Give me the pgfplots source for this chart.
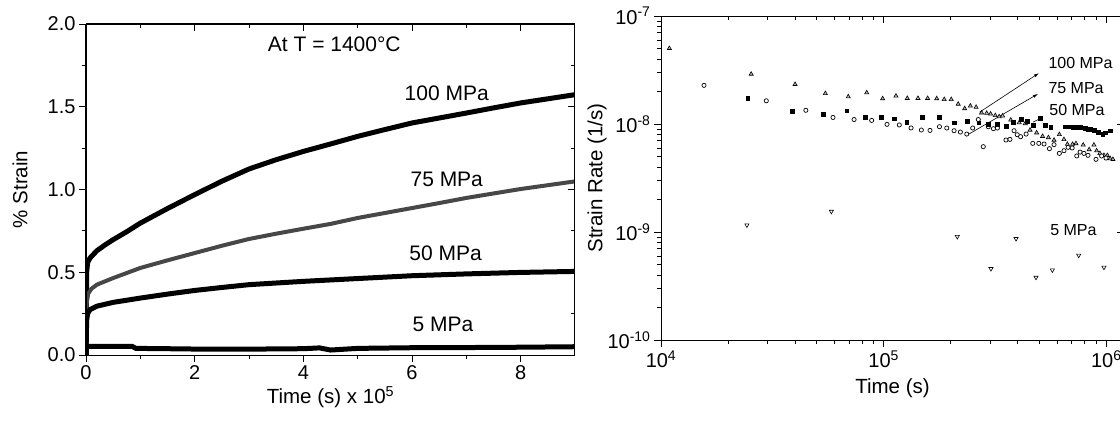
\documentclass[border=0pt]{standalone}
\usepackage{fontspec}
\setmainfont{Liberation Sans}
\usepackage{pgfplots}
\pgfplotsset{compat=1.18}
\usetikzlibrary{arrows.meta}
\pgfplotsset{
  mybase/.style={
    scale only axis,
    axis line style={line width=1pt},
    every tick/.style={black, line width=0.9pt},
    major tick length=7pt, minor tick length=4pt,
    tick label style={font=\fontsize{20}{24}\selectfont},
    label style={font=\fontsize{20.5}{25}\selectfont},
  },
  leftdims/.style={mybase, at={(86pt,69pt)}, anchor=south west,
    width=489pt, height=331pt, xmin=0, xmax=9, ymin=0, ymax=2,
    xtick={0,2,4,6,8}, minor xtick={1,3,5,7},
    ytick={0,0.5,1,1.5,2}, minor ytick={0.25,0.75,1.25,1.75}},
  rightdims/.style={mybase, at={(661pt,84pt)}, anchor=south west,
    width=463pt, height=324pt,
    xmin=1e4, xmax=1.2e6, ymin=1e-10, ymax=1e-7,
    xtick={1e4,1e5,1e6}, ytick={1e-10,1e-9,1e-8,1e-7}},
}
\pgfplotstableread{
t s
0 0
0.012 0.50
0.03 0.56
0.074 0.586
0.2 0.63
0.35 0.665
0.5 0.697
0.75 0.745
1 0.797
1.5 0.885
2 0.969
2.5 1.05
3 1.124
3.5 1.18
4 1.230
4.5 1.275
5 1.321
5.5 1.362
6 1.402
6.5 1.432
7 1.462
7.5 1.493
8 1.523
8.5 1.548
9 1.573
}\sHundred
\pgfplotstableread{
t s
0 0
0.012 0.31
0.04 0.37
0.1 0.40
0.2 0.425
0.5 0.465
1 0.526
1.5 0.572
2 0.616
2.5 0.66
3 0.701
3.5 0.733
4 0.763
4.5 0.792
5 0.828
5.5 0.858
6 0.888
6.5 0.918
7 0.949
7.5 0.976
8 1.003
8.5 1.026
9 1.049
}\sSeventyFive
\pgfplotstableread{
t s
0 0
0.012 0.21
0.03 0.25
0.074 0.274
0.2 0.295
0.5 0.318
1 0.344
1.5 0.368
2 0.39
2.5 0.408
3 0.425
4 0.445
5 0.462
6 0.479
7 0.490
8 0.499
9 0.505
}\sFifty
\pgfplotstableread{
t s
0 0
0.01 0.052
0.5 0.052
0.85 0.052
0.92 0.040
1.5 0.038
2 0.036
3 0.035
3.5 0.037
4 0.038
4.3 0.043
4.5 0.030
4.7 0.034
5 0.040
6 0.044
7 0.045
8 0.047
9 0.050
}\sFive
\pgfplotstableread{
t r
1.09e4 5.02e-8
2.54e4 2.90e-8
4.0e4 2.33e-8
5.47e4 1.92e-8
6.93e4 1.79e-8
8.39e4 1.95e-8
9.89e4 1.72e-8
1.135e5 1.82e-8
1.276e5 1.73e-8
1.425e5 1.73e-8
1.575e5 1.73e-8
1.73e5 1.72e-8
1.87e5 1.69e-8
2.01e5 1.69e-8
2.16e5 1.53e-8
2.31e5 1.39e-8
2.45e5 1.47e-8
2.60e5 1.43e-8
2.75e5 1.27e-8
2.90e5 1.26e-8
3.02e5 1.24e-8
3.17e5 1.20e-8
3.30e5 1.17e-8
3.42e5 1.19e-8
3.72e5 1.09e-8
4.06e5 1.03e-8
4.32e5 1.01e-8
4.54e5 8.8e-9
4.86e5 8.3e-9
5.17e5 7.7e-9
5.49e5 7.5e-9
5.82e5 7.1e-9
6.15e5 8.0e-9
6.45e5 7.2e-9
6.68e5 6.5e-9
7.05e5 6.5e-9
7.30e5 6.6e-9
7.87e5 6.4e-9
8.37e5 5.8e-9
8.79e5 6.4e-9
9.04e5 5.66e-9
9.35e5 5.35e-9
9.75e5 5.13e-9
1.01e6 5.13e-9
1.04e6 4.78e-9
1.07e6 4.71e-9
}\rHundred
\pgfplotstableread{
t r
1.56e4 2.28e-8
2.97e4 1.64e-8
4.47e4 1.34e-8
5.92e4 1.15e-8
7.36e4 1.10e-8
8.83e4 1.08e-8
1.035e5 9.93e-9
1.175e5 9.8e-9
1.327e5 9.2e-9
1.476e5 8.8e-9
1.614e5 8.73e-9
1.78e5 9.44e-9
1.92e5 9.18e-9
2.07e5 8.67e-9
2.21e5 8.43e-9
2.36e5 8.07e-9
2.51e5 9.18e-9
2.66e5 1.10e-8
2.80e5 6.17e-9
2.95e5 9.44e-9
3.11e5 9.05e-9
3.24e5 9.18e-9
3.54e5 7.11e-9
3.69e5 7.21e-9
3.85e5 8.67e-9
3.98e5 7.96e-9
4.12e5 7.63e-9
4.36e5 8.07e-9
4.67e5 6.62e-9
4.97e5 6.62e-9
5.25e5 6.53e-9
5.55e5 5.91e-9
5.82e5 6.44e-9
6.15e5 5.35e-9
6.45e5 5.66e-9
6.73e5 6.08e-9
7.02e5 6.0e-9
7.36e5 5.06e-9
7.62e5 5.5e-9
7.93e5 5.35e-9
8.27e5 5.13e-9
8.98e5 4.71e-9
9.52e5 5.06e-9
9.96e5 4.84e-9
}\rSeventyFive
\pgfplotstableread{
t r
2.45e4 1.72e-8
3.89e4 1.31e-8
5.36e4 1.24e-8
6.82e4 1.33e-8
8.28e4 1.15e-8
9.73e4 1.15e-8
1.117e5 1.12e-8
1.268e5 1.04e-8
1.486e5 1.15e-8
1.78e5 1.15e-8
2.07e5 1.03e-8
2.37e5 1.06e-8
2.67e5 1.03e-8
2.94e5 1.0e-8
3.24e5 1.0e-8
3.54e5 9.58e-9
3.82e5 1.04e-8
4.15e5 1.10e-8
4.42e5 1.07e-8
4.70e5 9.72e-9
5.04e5 1.14e-8
5.32e5 9.72e-9
5.62e5 9.31e-9
6.50e5 9.44e-9
6.80e5 9.44e-9
7.11e5 9.31e-9
7.35e5 9.31e-9
7.62e5 9.31e-9
7.85e5 9.25e-9
8.02e5 9.18e-9
8.25e5 9.0e-9
8.44e5 8.93e-9
8.79e5 8.8e-9
9.16e5 8.43e-9
9.62e5 8.07e-9
9.89e5 8.3e-9
1.04e6 8.67e-9
}\rFifty
\pgfplotstableread{
t r
2.43e4 1.16e-9
5.82e4 1.55e-9
2.14e5 9.06e-10
3.03e5 4.57e-10
3.93e5 8.67e-10
4.83e5 3.80e-10
5.72e5 4.44e-10
7.51e5 6.08e-10
9.75e5 4.71e-10
}\rFive
\begin{document}
\begin{tikzpicture}
\path[use as bounding box] (0,0) rectangle (1120pt,424pt);
% ---------------- left panel ----------------
\begin{axis}[leftdims,
  tick align=outside, xtick pos=left, ytick pos=left,
  xticklabels={0,2,4,6,8},
  yticklabels={0.0,0.5,1.0,1.5,2.0},
  xlabel={Time (s) x 10\textsuperscript{5}},
  ylabel={\% Strain},
  xlabel style={at={(axis description cs:0.5,-0.128)}, anchor=center},
  ylabel style={at={(axis description cs:-0.135,0.5)}, anchor=center},
]
\addplot[black, line width=5pt] table[x=t,y=s]{\sHundred};
\addplot[black!72, line width=4pt] table[x=t,y=s]{\sSeventyFive};
\addplot[black, line width=5pt] table[x=t,y=s]{\sFifty};
\addplot[black, line width=5pt] table[x=t,y=s]{\sFive};
\node[font=\fontsize{21}{25}\selectfont] at (axis cs:4.57,1.88) {At T = 1400°C};
\node[font=\fontsize{21}{25}\selectfont] at (axis cs:6.64,1.58) {100 MPa};
\node[font=\fontsize{21}{25}\selectfont] at (axis cs:6.64,1.06) {75 MPa};
\node[font=\fontsize{21}{25}\selectfont] at (axis cs:6.62,0.617) {50 MPa};
\node[font=\fontsize{21}{25}\selectfont] at (axis cs:6.57,0.183) {5 MPa};
\end{axis}
\begin{axis}[leftdims, tick align=inside, xtick pos=right, ytick pos=right,
  xticklabels={}, yticklabels={}]
\end{axis}
% ---------------- right panel ----------------
\begin{loglogaxis}[rightdims,
  tick align=outside, xtick pos=left, ytick pos=left,
  xticklabels={10\textsuperscript{4},10\textsuperscript{5},10\textsuperscript{6}},
  yticklabels={10\textsuperscript{-10},10\textsuperscript{-9},10\textsuperscript{-8},10\textsuperscript{-7}},
  xlabel={Time (s)},
  ylabel={Strain Rate (1/s)},
  xlabel style={at={(axis description cs:0.5,-0.148)}, anchor=center},
  ylabel style={at={(axis description cs:-0.138,0.5)}, anchor=center},
]
\addplot[only marks, mark=triangle*, mark size=2.4pt, mark options={fill=gray!60, draw=black, line width=0.6pt}] table[x=t,y=r]{\rHundred};
\addplot[only marks, mark=*, mark size=2.1pt, mark options={fill=white, draw=black, line width=0.7pt}] table[x=t,y=r]{\rSeventyFive};
\addplot[only marks, mark=square*, mark size=1.9pt, mark options={fill=black, draw=black}] table[x=t,y=r]{\rFifty};
\addplot[only marks, mark=triangle*, mark size=2.4pt, mark options={rotate=180, draw=black, fill=white, line width=0.6pt}] table[x=t,y=r]{\rFive};
\node[anchor=west, font=\fontsize{16}{19}\selectfont] at (axis cs:5.3e5,3.67e-8) {100 MPa};
\node[anchor=west, font=\fontsize{16}{19}\selectfont] at (axis cs:5.3e5,2.15e-8) {75 MPa};
\node[anchor=west, font=\fontsize{16}{19}\selectfont] at (axis cs:5.35e5,1.35e-8) {50 MPa};
\node[anchor=west, font=\fontsize{16}{19}\selectfont] at (axis cs:5.4e5,1.04e-9) {5 MPa};
\draw[-{Latex[length=5pt,width=3pt]}, line width=0.6pt] (axis cs:2.70e5,1.29e-8) -- (axis cs:4.98e5,2.96e-8);
\draw[-{Latex[length=5pt,width=3pt]}, line width=0.6pt] (axis cs:2.37e5,7.9e-9) -- (axis cs:4.93e5,1.90e-8);
\draw[-{Latex[length=4pt,width=3pt]}, line width=0.6pt] (axis cs:4.68e5,1.04e-8) -- (axis cs:5.19e5,1.16e-8);
\end{loglogaxis}
\begin{loglogaxis}[rightdims, tick align=inside, xtick pos=right, ytick pos=right,
  xticklabels={}, yticklabels={}]
\end{loglogaxis}
\end{tikzpicture}
\end{document}
